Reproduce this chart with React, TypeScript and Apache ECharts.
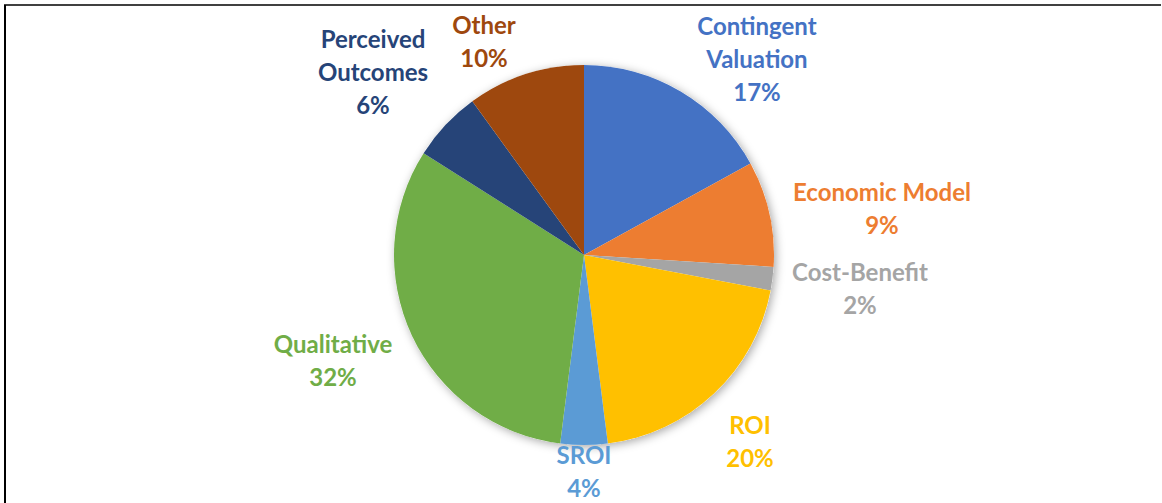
import React, { useEffect, useRef } from "react";
import * as echarts from "echarts";

const categories = [
  "Contingent\nValuation",
  "Economic Model",
  "Cost-Benefit",
  "ROI",
  "SROI",
  "Qualitative",
  "Perceived\nOutcomes",
  "Other",
];
const values = [17, 9, 2, 20, 4, 32, 6, 10];
const colors = [
  "#4472C4",
  "#ED7D31",
  "#A5A5A5",
  "#FFC000",
  "#5B9BD5",
  "#70AD47",
  "#264478",
  "#9E480E",
];
// label block centres (layout only)
const labelPos: [number, number][] = [
  [757, 58],
  [882, 208],
  [860, 288],
  [750, 441],
  [584, 471],
  [333, 360],
  [373, 71],
  [484, 41],
];

export default function App() {
  const ref = useRef<HTMLDivElement>(null);
  useEffect(() => {
    if (!ref.current) return;
    const chart = echarts.init(ref.current, undefined, { renderer: "svg" });
    const total = values.reduce((a, b) => a + b, 0);
    chart.setOption({
      animation: false,
      backgroundColor: "#ffffff",
      graphic: [
        {
          type: "line",
          shape: { x1: 4, y1: 5, x2: 1161, y2: 5 },
          style: { stroke: "#000", lineWidth: 1.5 },
        },
        {
          type: "line",
          shape: { x1: 5, y1: 5, x2: 5, y2: 503 },
          style: { stroke: "#000", lineWidth: 2 },
        },
      ],
      series: [
        {
          type: "pie",
          center: [584, 255],
          radius: 190,
          silent: true,
          z: 1,
          label: { show: false },
          labelLine: { show: false },
          data: [
            {
              value: 1,
              itemStyle: {
                color: "#ffffff",
                shadowBlur: 10,
                shadowColor: "rgba(0,0,0,0.35)",
                shadowOffsetX: 2,
                shadowOffsetY: 2,
              },
            },
          ],
        },
        {
          type: "pie",
          center: [584, 255],
          radius: 190,
          startAngle: 90,
          clockwise: true,
          z: 2,
          itemStyle: { borderWidth: 0 },
          labelLine: { show: false },
          label: {
            show: true,
            position: "outside",
            fontFamily: "Lato",
            fontWeight: "bold",
            fontSize: 24,
            lineHeight: 33,
            align: "center",
            formatter: (p: any) =>
              `${p.name}\n${Math.round((p.value / total) * 100)}%`,
          },
          labelLayout: (params: any) => {
            const pos = labelPos[params.dataIndex];
            return {
              x: pos[0],
              y: pos[1],
              align: "center",
              verticalAlign: "middle",
            };
          },
          data: categories.map((c, i) => ({
            name: c,
            value: values[i],
            itemStyle: { color: colors[i] },
            label: { color: colors[i] },
          })),
        },
      ],
    });
    return () => chart.dispose();
  }, []);
  return (
    <div
      ref={ref}
      style={{
        position: "fixed",
        left: 0,
        top: 0,
        width: 1162,
        height: 503,
      }}
    />
  );
}
